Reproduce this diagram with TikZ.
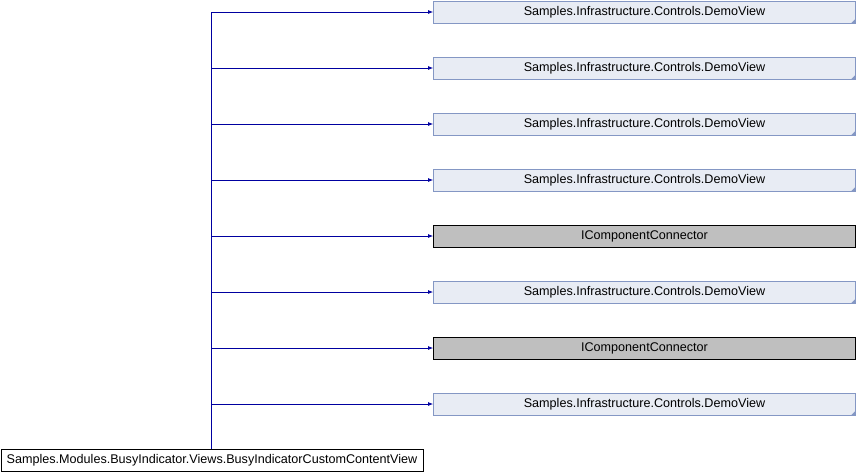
\documentclass[tikz,border=0pt]{standalone}
\usepackage{fontspec}
\setmainfont{Liberation Sans}
\usetikzlibrary{arrows.meta}
\definecolor{demofill}{HTML}{E8ECF4}
\definecolor{demoline}{HTML}{8497C4}
\definecolor{ifill}{HTML}{BFBFBF}
\definecolor{edge}{HTML}{0000A0}
\tikzset{
  x=1pt,y=-1pt,
  every node/.style={font=\fontsize{12.6}{14}\selectfont,inner sep=0pt,minimum height=22pt},
  demobox/.style={draw=demoline,fill=demofill,minimum width=422pt,line width=0.8pt},
  ibox/.style={draw=black,fill=ifill,minimum width=422pt,line width=0.8pt},
  basebox/.style={draw=black,fill=white,minimum width=422pt,line width=0.8pt},
  conn/.style={draw=edge,line width=0.8pt,-{Latex[length=5pt,width=4pt]}},
  trunk/.style={draw=edge,line width=0.8pt}
}
\begin{document}
\begin{tikzpicture}
\useasboundingbox (0,0) rectangle (856,472);
\node[basebox] (base) at (212,460) {Samples.Modules.BusyIndicator.Views.BusyIndicatorCustomContentView};
\node[demobox] (t1) at (644.5,12) {Samples.Infrastructure.Controls.DemoView};
\node[demobox] (t2) at (644.5,68) {Samples.Infrastructure.Controls.DemoView};
\node[demobox] (t3) at (644.5,124) {Samples.Infrastructure.Controls.DemoView};
\node[demobox] (t4) at (644.5,180) {Samples.Infrastructure.Controls.DemoView};
\node[ibox] (t5) at (644.5,236) {IComponentConnector};
\node[demobox] (t6) at (644.5,292) {Samples.Infrastructure.Controls.DemoView};
\node[ibox] (t7) at (644.5,348) {IComponentConnector};
\node[demobox] (t8) at (644.5,404) {Samples.Infrastructure.Controls.DemoView};
\foreach \n in {t1,t2,t3,t4,t6,t8}{
  \fill[demoline] (\n.south east) -- ++(-5,0) -- ++(5,-5) -- cycle;
}
\coordinate (top) at (211,12);
\draw[trunk] (base.north -| top) -- (top);
\foreach \n in {t1,t2,t3,t4,t5,t6,t7,t8}{
  \draw[conn] (top |- \n.west) -- (\n.west);
}
\end{tikzpicture}
\end{document}
